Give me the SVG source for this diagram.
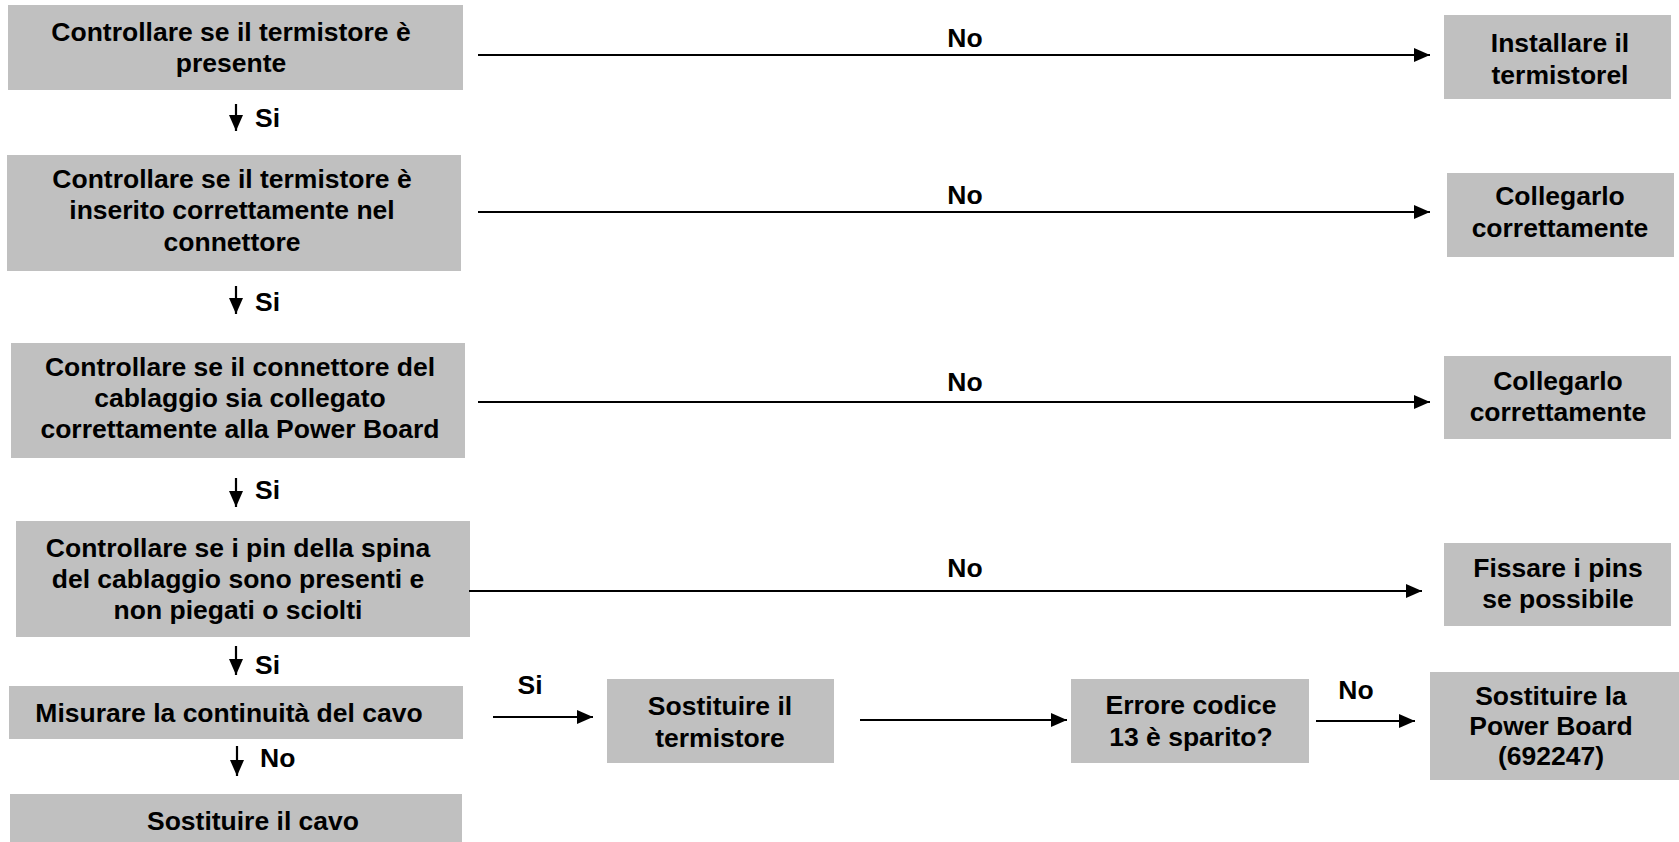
<svg xmlns="http://www.w3.org/2000/svg" width="1679" height="842" viewBox="0 0 1679 842">
<style>
.box{fill:#c0c0c0;stroke:none}
.t{font-family:"Liberation Sans",Arial,Helvetica,sans-serif;font-weight:bold;font-size:26.5px;fill:#000;text-anchor:middle}
.lbl{font-family:"Liberation Sans",Arial,Helvetica,sans-serif;font-weight:bold;font-size:26.5px;fill:#000}
.c{stroke:#000;stroke-width:2.2;fill:none;marker-end:url(#ah)}
</style>
<defs>
<marker id="ah" markerUnits="userSpaceOnUse" markerWidth="16" markerHeight="14" refX="16" refY="7" orient="auto">
<path d="M0,0 L16,7 L0,14 z" fill="#000"/>
</marker>
</defs>
<rect width="1679" height="842" fill="#fff"/>

<g id="n1">
<rect class="box" x="8" y="5" width="455" height="85"/>
<text class="t" x="231" y="41">Controllare se il termistore è</text>
<text class="t" x="231" y="72">presente</text>
</g>
<g id="n2">
<rect class="box" x="7" y="155" width="454" height="116"/>
<text class="t" x="232" y="188">Controllare se il termistore è</text>
<text class="t" x="232" y="219">inserito correttamente nel</text>
<text class="t" x="232" y="251">connettore</text>
</g>
<g id="n3">
<rect class="box" x="11" y="343" width="454" height="115"/>
<text class="t" x="240" y="376">Controllare se il connettore del</text>
<text class="t" x="240" y="407">cablaggio sia collegato</text>
<text class="t" x="240" y="438">correttamente alla Power Board</text>
</g>
<g id="n4">
<rect class="box" x="16" y="521" width="454" height="116"/>
<text class="t" x="238" y="557">Controllare se i pin della spina</text>
<text class="t" x="238" y="588">del cablaggio sono presenti e</text>
<text class="t" x="238" y="619">non piegati o sciolti</text>
</g>
<g id="n5">
<rect class="box" x="9" y="686" width="454" height="53"/>
<text class="t" x="229" y="722">Misurare la continuità del cavo</text>
</g>
<g id="n6">
<rect class="box" x="10" y="794" width="452" height="60"/>
<text class="t" x="253" y="830">Sostituire il cavo</text>
</g>
<g id="r1">
<rect class="box" x="1444" y="15" width="227" height="84"/>
<text class="t" x="1560" y="52">Installare il</text>
<text class="t" x="1560" y="84">termistorel</text>
</g>
<g id="r2">
<rect class="box" x="1447" y="173" width="227" height="84"/>
<text class="t" x="1560" y="205">Collegarlo</text>
<text class="t" x="1560" y="237">correttamente</text>
</g>
<g id="r3">
<rect class="box" x="1444" y="356" width="227" height="83"/>
<text class="t" x="1558" y="390">Collegarlo</text>
<text class="t" x="1558" y="421">correttamente</text>
</g>
<g id="r4">
<rect class="box" x="1444" y="543" width="227" height="83"/>
<text class="t" x="1558" y="577">Fissare i pins</text>
<text class="t" x="1558" y="608">se possibile</text>
</g>
<g id="b1">
<rect class="box" x="607" y="679" width="227" height="84"/>
<text class="t" x="720" y="715">Sostituire il</text>
<text class="t" x="720" y="747">termistore</text>
</g>
<g id="b2">
<rect class="box" x="1071" y="679" width="238" height="84"/>
<text class="t" x="1191" y="714">Errore codice</text>
<text class="t" x="1191" y="746">13 è sparito?</text>
</g>
<g id="b3">
<rect class="box" x="1430" y="672" width="249" height="108"/>
<text class="t" x="1551" y="705">Sostituire la</text>
<text class="t" x="1551" y="735">Power Board</text>
<text class="t" x="1551" y="765">(692247)</text>
</g>

<g id="connectors">
<line class="c" x1="478" y1="55" x2="1430" y2="55"/>
<line class="c" x1="478" y1="212" x2="1430" y2="212"/>
<line class="c" x1="478" y1="402" x2="1430" y2="402"/>
<line class="c" x1="469" y1="591" x2="1422" y2="591"/>
<line class="c" x1="236" y1="104" x2="236" y2="131"/>
<line class="c" x1="236" y1="286" x2="236" y2="314"/>
<line class="c" x1="236" y1="478" x2="236" y2="507"/>
<line class="c" x1="236" y1="646" x2="236" y2="675"/>
<line class="c" x1="237" y1="746" x2="237" y2="776"/>
<line class="c" x1="493" y1="717" x2="593" y2="717"/>
<line class="c" x1="860" y1="720" x2="1067" y2="720"/>
<line class="c" x1="1316" y1="721" x2="1415" y2="721"/>
</g>
<g id="labels">
<text class="lbl" x="965" y="47" text-anchor="middle">No</text>
<text class="lbl" x="965" y="204" text-anchor="middle">No</text>
<text class="lbl" x="965" y="391" text-anchor="middle">No</text>
<text class="lbl" x="965" y="577" text-anchor="middle">No</text>
<text class="lbl" x="255" y="127">Si</text>
<text class="lbl" x="255" y="311">Si</text>
<text class="lbl" x="255" y="499">Si</text>
<text class="lbl" x="255" y="674">Si</text>
<text class="lbl" x="260" y="767">No</text>
<text class="lbl" x="530" y="694" text-anchor="middle">Si</text>
<text class="lbl" x="1356" y="699" text-anchor="middle">No</text>
</g>
</svg>
